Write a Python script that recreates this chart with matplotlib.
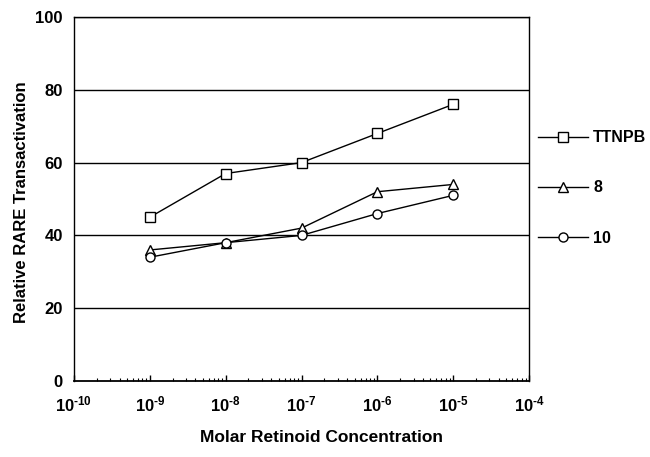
import matplotlib
matplotlib.use("Agg")
import matplotlib.pyplot as plt

plt.rcParams['font.family'] = ['Liberation Sans', 'DejaVu Sans']
plt.rcParams['font.weight'] = 'bold'
plt.rcParams['mathtext.fontset'] = 'custom'
plt.rcParams['mathtext.rm'] = 'Liberation Sans:bold'
plt.rcParams['mathtext.bf'] = 'Liberation Sans:bold'
plt.rcParams['mathtext.default'] = 'bf'

conc = [1e-9, 1e-8, 1e-7, 1e-6, 1e-5]
ttnpb = [45, 57, 60, 68, 76]
cmp8 = [36, 38, 42, 52, 54]
cmp10 = [34, 38, 40, 46, 51]
series_labels = ["TTNPB", "8", "10"]
xtick_vals = [1e-10, 1e-9, 1e-8, 1e-7, 1e-6, 1e-5, 1e-4]
xtick_labels = ["10$^{\\text{-10}}$", "10$^{\\text{-9}}$", "10$^{\\text{-8}}$", "10$^{\\text{-7}}$",
                "10$^{\\text{-6}}$", "10$^{\\text{-5}}$", "10$^{\\text{-4}}$"]
ytick_vals = [0, 20, 40, 60, 80, 100]

fig = plt.figure(figsize=(6.5, 4.57), dpi=100)
ax = fig.add_axes([74/650, 1-381/457, (529-74)/650, (381-17)/457])

mk = dict(color='black', lw=1.0, markerfacecolor='white', markeredgecolor='black',
          markeredgewidth=1.0, markersize=6.5)
l1, = ax.plot(conc, ttnpb, marker='s', **mk)
l2, = ax.plot(conc, cmp8, marker='^', **mk)
l3, = ax.plot(conc, cmp10, marker='o', **mk)

ax.set_xscale('log')
ax.set_xlim(1e-10, 1e-4)
ax.set_ylim(0, 100)
ax.set_xticks(xtick_vals)
ax.set_xticklabels(xtick_labels, fontsize=12)
ax.set_yticks(ytick_vals)
ax.set_yticklabels([str(v) for v in ytick_vals], fontsize=12)
for v in [20, 40, 60, 80, 100]:
    ax.axhline(v, color='black', lw=1.0, zorder=0)
ax.tick_params(axis='y', length=0, pad=8)
ax.tick_params(axis='x', which='major', direction='in', length=4, pad=10, width=1)
ax.tick_params(axis='x', which='minor', direction='in', length=2, width=0.8)
for s in ax.spines.values():
    s.set_linewidth(1.0)
ax.spines['bottom'].set_linewidth(1.3)

fig.text(22/650, 1-202/457, "Relative RARE Transactivation", ha='center', va='center',
         rotation=90, fontsize=12, fontweight='bold')
fig.text(322/650, 1-437/457, "Molar Retinoid Concentration", ha='center', va='center',
         fontsize=12.5, fontweight='bold')

fig.legend([l1, l2, l3], series_labels, loc='center left',
           bbox_to_anchor=(538/650, 1-188/457), frameon=False, fontsize=11.5,
           handlelength=3.1, handletextpad=0.35, labelspacing=2.2,
           borderpad=0, borderaxespad=0)

fig.savefig("out.png", dpi=100)
